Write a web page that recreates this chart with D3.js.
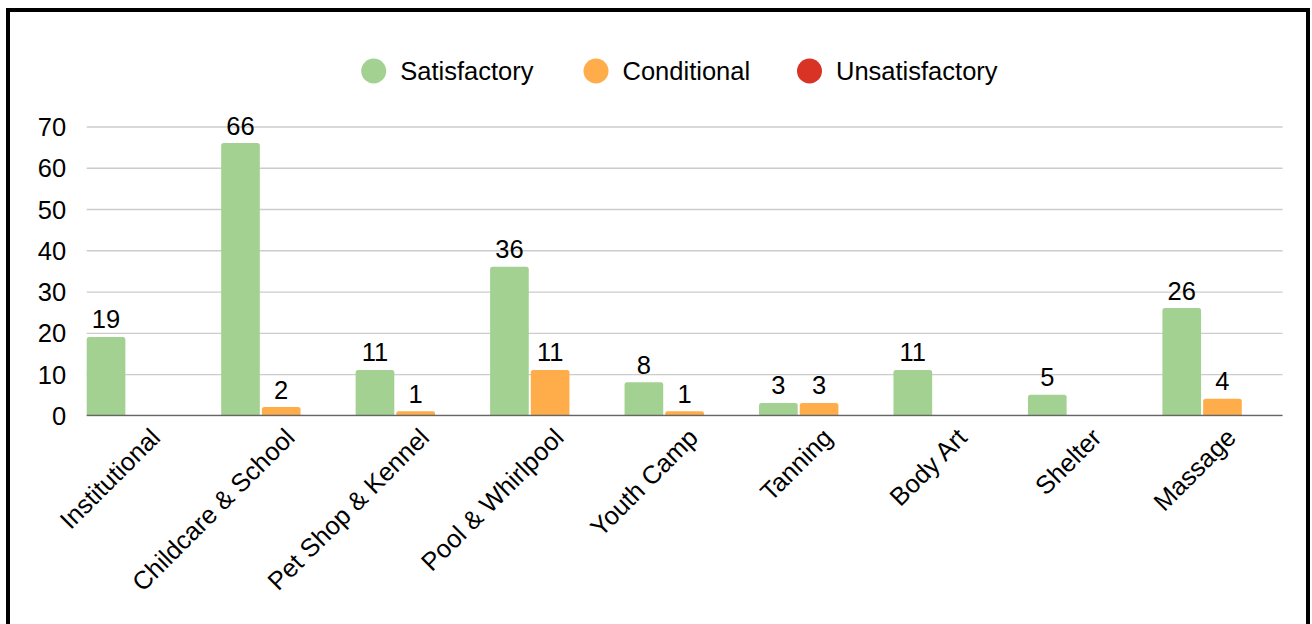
<!DOCTYPE html>
<html><head><meta charset="utf-8">
<script src="https://cdn.jsdelivr.net/npm/d3@7/dist/d3.min.js"></script>
<style>body{margin:0;background:#fff}svg{display:block}text{font-family:"Liberation Sans",Arial,sans-serif;fill:#000}</style>
</head><body><svg id="c" width="1312" height="624"></svg>
<script>
const categories = ["Institutional","Childcare & School","Pet Shop & Kennel","Pool & Whirlpool","Youth Camp","Tanning","Body Art","Shelter","Massage"];
const seriesNames = ["Satisfactory","Conditional","Unsatisfactory"];
const satisfactory = [19,66,11,36,8,3,11,5,26];
const conditional = [0,2,1,11,1,3,0,0,4];
const unsatisfactory = [0,0,0,0,0,0,0,0,0];
const yTicks = [0,10,20,30,40,50,60,70];
const colors = ["#a3d191","#ffad4a","#d93326"];

(function(){
const values = [satisfactory, conditional, unsatisfactory];
const svg = d3.select("#c");
const fs = 25.5;

svg.append("rect").attr("x",8).attr("y",10).attr("width",1300).attr("height",700)
  .attr("fill","#fff").attr("stroke","#000").attr("stroke-width",4);

const pLeft = 86.7, pRight = 1282.5, pTop = 126.5, pBottom = 415.3;
const x0 = d3.scaleBand().domain(categories).range([pLeft,pRight]).paddingInner(0.107).paddingOuter(0);
const x1 = d3.scaleBand().domain(seriesNames).range([0,x0.bandwidth()]).paddingInner(0.05).paddingOuter(0);
const y = d3.scaleLinear().domain([0,70]).range([pBottom,pTop]);

const yAxis = d3.axisLeft(y).tickValues(yTicks).tickSize(-(pRight-pLeft)).tickPadding(20).tickFormat(d3.format("d"));
const gy = svg.append("g").attr("transform",`translate(${pLeft},0)`).call(yAxis);
gy.select(".domain").remove();
gy.selectAll(".tick line").attr("stroke","#cccccc").attr("stroke-width",1.3);
gy.selectAll(".tick text").attr("font-size",fs).attr("dy","0.36em").attr("x",-20.5);

const r = 2.5;
function barPath(x,w,y0,y1){
  const h = y0-y1; const rr = Math.min(r,h/2,w/2);
  return `M${x},${y0}V${y1+rr}Q${x},${y1} ${x+rr},${y1}H${x+w-rr}Q${x+w},${y1} ${x+w},${y1+rr}V${y0}Z`;
}
const groups = svg.append("g").selectAll("g").data(categories).join("g")
  .attr("transform",d=>`translate(${x0(d)},0)`);
groups.each(function(cat,i){
  const g = d3.select(this);
  seriesNames.forEach((s,k)=>{
    const v = values[k][i];
    if(v>0){
      g.append("path").attr("d",barPath(x1(s),x1.bandwidth(),y(0),y(v))).attr("fill",colors[k]);
      g.append("text").attr("x",x1(s)+x1.bandwidth()/2).attr("y",y(v)-8.5)
        .attr("text-anchor","middle").attr("font-size",fs).text(v);
    }
  });
});

svg.append("line").attr("x1",pLeft).attr("x2",pRight).attr("y1",pBottom).attr("y2",pBottom)
  .attr("stroke","#666").attr("stroke-width",1.3);

const xAxis = d3.axisBottom(x0).tickSize(0).tickPadding(0);
const gx = svg.append("g").attr("transform",`translate(0,${pBottom})`).call(xAxis);
gx.select(".domain").remove();
gx.selectAll(".tick text").attr("font-size",fs).attr("text-anchor","end")
  .attr("x",0).attr("y",0).attr("dy",0)
  .attr("transform","translate(15,24) rotate(-45)");

const legX = [373.7,596,809.5];
const leg = svg.append("g");
seriesNames.forEach((s,k)=>{
  leg.append("circle").attr("cx",legX[k]).attr("cy",71).attr("r",12.5).attr("fill",colors[k]);
  leg.append("text").attr("x",legX[k]+26.5).attr("y",71).attr("dy","0.36em").attr("font-size",fs).text(s);
});
})();
</script></body></html>
